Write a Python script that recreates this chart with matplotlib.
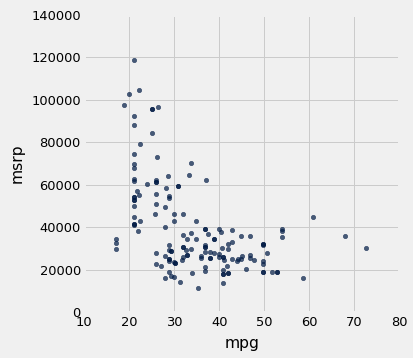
import matplotlib
matplotlib.use("Agg")
import matplotlib.pyplot as plt

# values (overlapping dots listed twice)
mpg = [21.1, 22.2, 20.0, 18.9, 25.1, 25.1, 26.4, 21.1, 21.1, 25.1,
       22.4, 21.1, 26.2, 33.6, 21.1, 21.1, 33.3, 28.7, 37.1, 21.1,
       21.1, 26.0, 26.0, 26.0, 24.0, 30.9, 30.9, 28.2, 21.8, 26.0,
       22.2, 21.1, 21.1, 21.1, 21.1, 28.9, 28.9, 26.0, 28.0, 21.1,
       25.8, 30.0, 32.0, 21.1, 22.4, 30.0, 34.9, 21.1, 21.1, 21.1,
       28.0, 22.0, 36.9, 36.9, 40.0, 40.4, 42.9, 32.0, 33.6, 37.6,
       32.9, 34.9, 38.9, 38.9, 17.1, 17.1, 17.1, 28.9, 36.9, 36.9,
       36.9, 32.0, 32.0, 33.6, 32.7, 28.9, 29.3, 29.3, 38.0, 38.9,
       36.9, 40.0, 40.0, 26.0, 32.9, 32.9, 28.0, 36.0, 36.0, 32.0,
       38.0, 38.0, 28.9, 28.9, 28.9, 31.6, 30.0, 30.2, 30.2, 26.0,
       27.1, 36.9, 36.9, 28.9, 29.3, 30.0, 34.0, 28.0, 31.3, 35.3,
       44.9, 46.9, 54.0, 54.0, 54.0, 60.9, 68.0, 72.7, 42.9, 42.0,
       42.0, 40.7, 49.8, 49.8, 49.8, 50.7, 40.9, 40.9, 41.1, 42.9,
       44.0, 44.2, 44.9, 45.1, 46.9, 46.9, 47.8, 49.8, 49.8, 41.8,
       40.9, 40.9, 40.9, 42.0, 42.0, 40.9, 46.0, 49.8, 49.8, 51.8,
       52.9, 52.9, 58.7]
msrp = [118600, 104500, 102600, 97400, 95800, 95800, 96500, 92200, 88000, 84200,
        79100, 74400, 72900, 70100, 69600, 67800, 64500, 64000, 62100, 62600,
        61600, 62100, 61200, 61200, 60200, 59300, 59300, 58400, 56900, 55500,
        55100, 54100, 54100, 52700, 52700, 54600, 53600, 50800, 49400, 49900,
        46100, 46100, 46100, 44700, 42800, 42800, 42800, 41400, 41400, 40900,
        40000, 38100, 39100, 39100, 39100, 37600, 38600, 36200, 37200, 36700,
        34400, 34400, 34700, 34700, 34400, 32500, 29600, 31500, 31500, 30600,
        30600, 30600, 30600, 29600, 29200, 29200, 28700, 28700, 28200, 27800,
        28200, 27300, 25900, 27800, 26800, 26800, 26400, 26400, 25400, 25900,
        25400, 25400, 24900, 24900, 24300, 24500, 23500, 23100, 23100, 22600,
        21600, 21200, 19300, 18800, 17200, 16500, 18400, 16000, 14100, 11300,
        35800, 35800, 39100, 38100, 35300, 44700, 35800, 30100, 32900, 32000,
        29600, 30100, 32000, 32000, 31500, 27800, 25900, 25900, 24500, 24900,
        24000, 24900, 24900, 26400, 26800, 25400, 24500, 24000, 22600, 21600,
        19800, 17900, 17900, 18400, 18400, 13600, 20200, 18800, 18800, 19100,
        18800, 18800, 16000]

x_ticks = [10, 20, 30, 40, 50, 60, 70, 80]
y_ticks = [0, 20000, 40000, 60000, 80000, 100000, 120000, 140000]

plt.style.use("fivethirtyeight")

W, H = 413, 358
fig = plt.figure(figsize=(W / 72, H / 72), dpi=72)
ax = fig.add_axes([84.3 / W, 1 - 312.3 / H, 315 / W, 297.5 / H])

ax.scatter(mpg, msrp, s=20, color=(0.0, 0.102, 0.267), alpha=0.7)

ax.set_xlim(10, 80)
ax.set_ylim(0, 140000)
ax.set_xticks(x_ticks)
ax.set_yticks(y_ticks)
ax.tick_params(labelsize=13)
ax.set_xlabel("mpg", fontsize=15.6, labelpad=7)
ax.set_ylabel("msrp", fontsize=15.6, labelpad=7)

fig.savefig("out.png", dpi=72)
